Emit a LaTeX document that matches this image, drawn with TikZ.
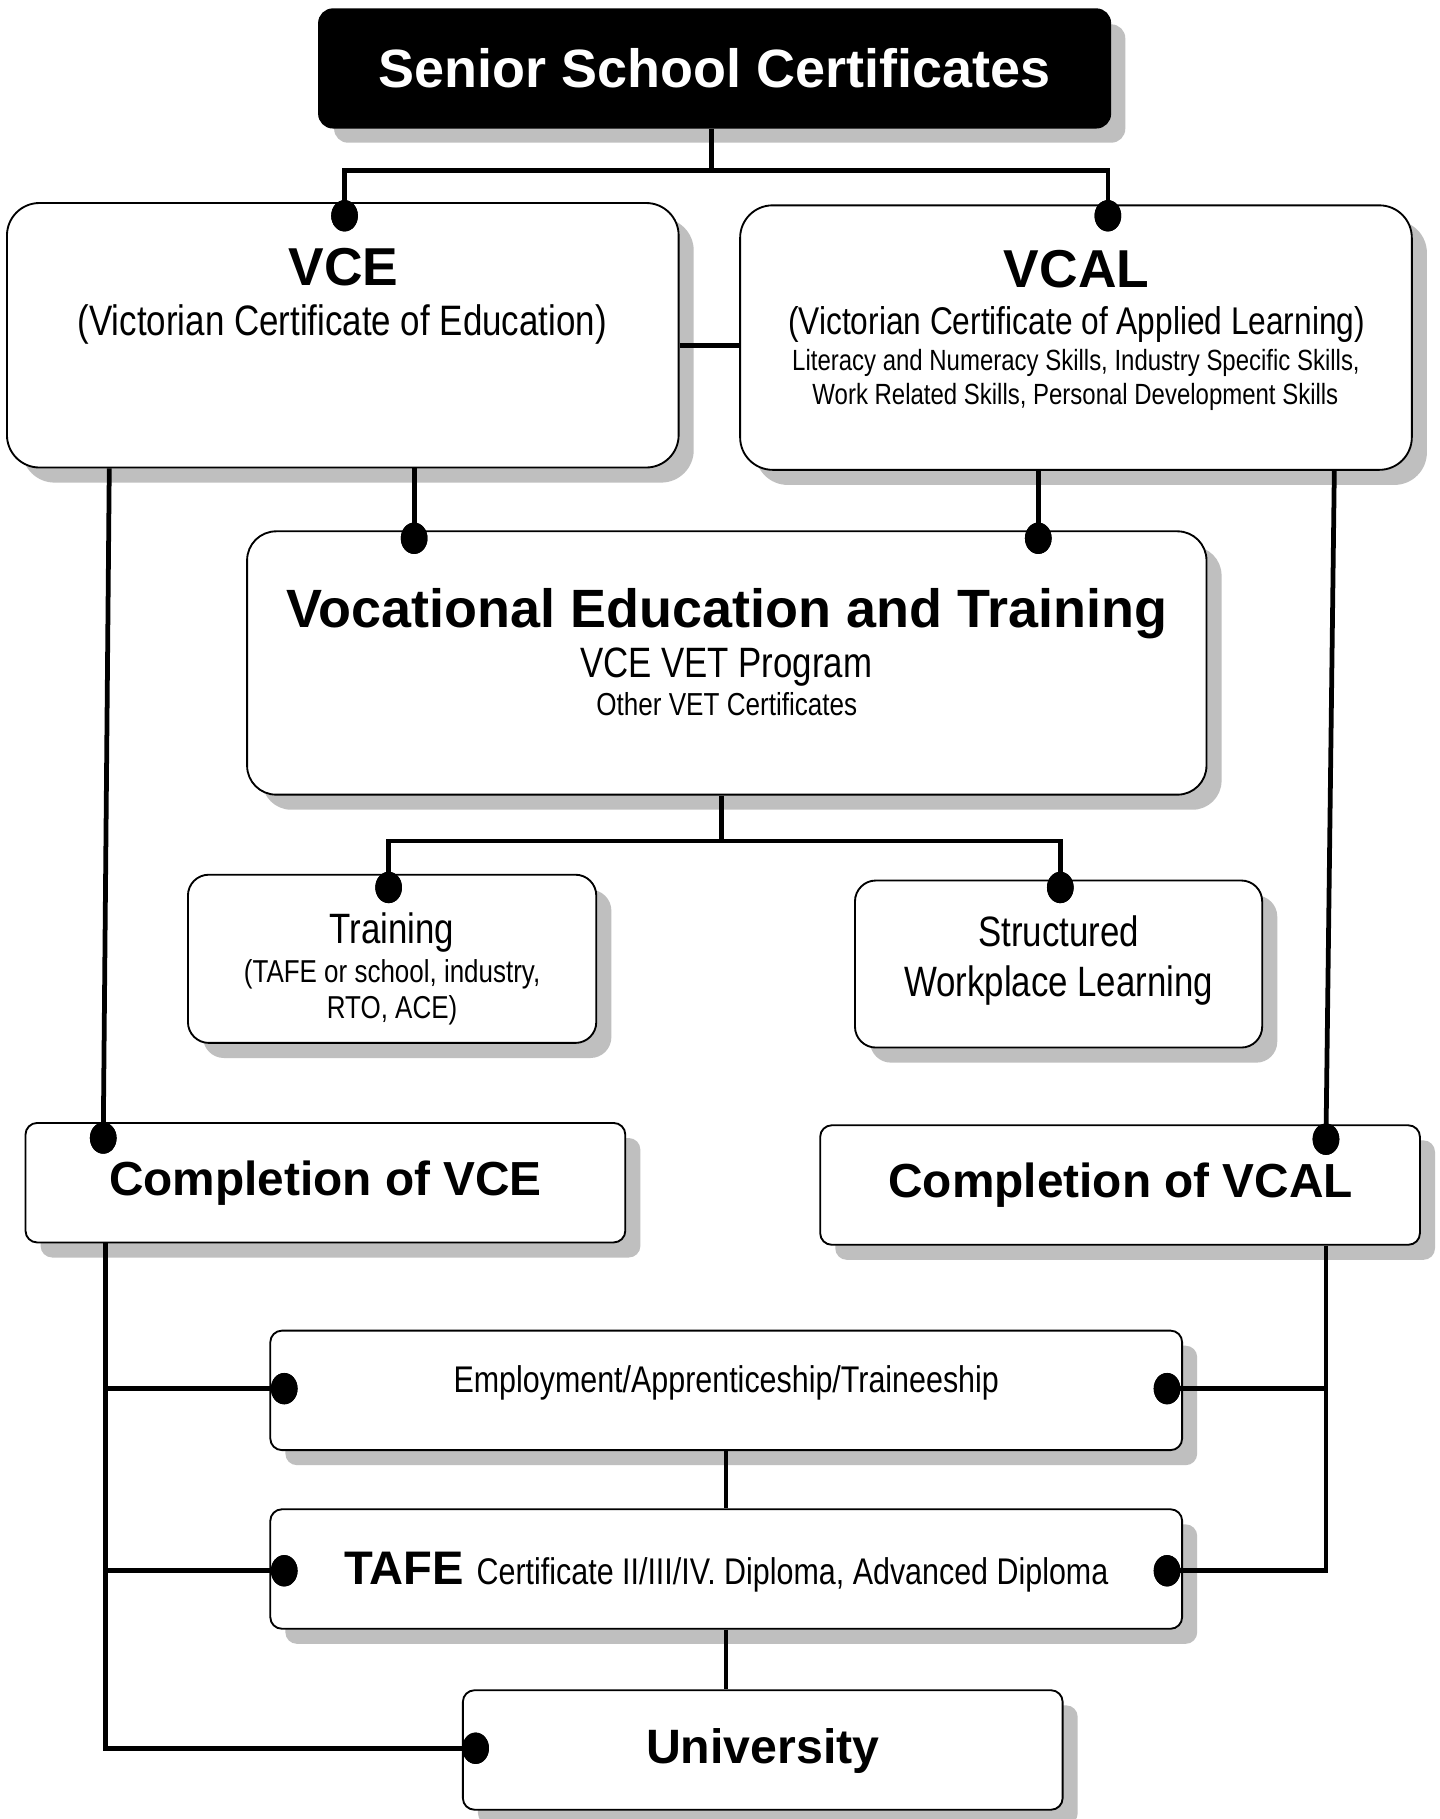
\documentclass[tikz,border=0pt]{standalone}
\usepackage{fontspec}
\setmainfont{Liberation Sans}
\newfontfamily\narfont[FakeStretch=0.82]{Liberation Sans}
\usetikzlibrary{shapes.geometric,shadows,calc}
\newcommand\Bsz[1]{\fontsize{#1}{#1}\selectfont\bfseries}
\newcommand\Nsz[1]{\fontsize{#1}{#1}\mdseries\narfont}
\tikzset{
 box/.style={draw=black, line width=1.6pt, fill=white, rectangle, inner sep=0pt,
   drop shadow={shadow xshift=13pt, shadow yshift=-13pt, fill=black!25, opacity=1}},
 conn/.style={line width=4.1pt, line join=miter},
 thinconn/.style={line width=3.2pt},
 dotn/.style={ellipse, fill=black, inner sep=0pt, minimum width=23pt, minimum height=27pt},
 txt/.style={anchor=base, inner sep=0pt},
}
\begin{document}
\begin{tikzpicture}[x=1pt,y=-1pt]
\useasboundingbox (0,0) rectangle (1241,1568);
\fill[white] (0,0) rectangle (1241,1568);
% boxes
\node[box, fill=black, rounded corners=12pt, minimum width=682pt, minimum height=102pt] (ssc) at (616,59) {};
\node[box, rounded corners=28pt, minimum width=579pt, minimum height=228pt] (vce) at (295.5,289) {};
\node[box, rounded corners=28pt, minimum width=579pt, minimum height=228pt] (vcal) at (927.5,291) {};
\node[box, rounded corners=25pt, minimum width=827pt, minimum height=227pt] (vet) at (626.5,571.5) {};
\node[box, rounded corners=18pt, minimum width=352pt, minimum height=145pt] (trn) at (338,826.5) {};
\node[box, rounded corners=18pt, minimum width=351pt, minimum height=144pt] (swl) at (912.5,831) {};
\node[box, rounded corners=10pt, minimum width=517pt, minimum height=103pt] (cvce) at (280.5,1019.5) {};
\node[box, rounded corners=10pt, minimum width=517pt, minimum height=103pt] (cvcal) at (965.5,1021.5) {};
\node[box, rounded corners=10pt, minimum width=786pt, minimum height=103pt] (emp) at (626,1198.5) {};
\node[box, rounded corners=10pt, minimum width=786pt, minimum height=103pt] (tafe) at (626,1352.5) {};
\node[box, rounded corners=10pt, minimum width=517pt, minimum height=103pt] (uni) at (657.5,1508.5) {};
% texts
\node[txt, text=white] (tssc) at (616,75) {\Bsz{46.5}Senior School Certificates};
\node[txt] (tvce) at (296,246.5) {\Bsz{46}VCE};
\node[txt] (tvce2) at (295,289) {\Nsz{36.7}(Victorian Certificate of Education)};
\node[txt] (tvcal) at (928,248) {\Bsz{46}VCAL};
\node[txt] (tvcal2) at (928,288) {\Nsz{33.3}(Victorian Certificate of Applied Learning)};
\node[txt] (tvcal3) at (927.5,319) {\Nsz{25.2}Literacy and Numeracy Skills, Industry Specific Skills,};
\node[txt] (tvcal4) at (927,348.5) {\Nsz{25.2}Work Related Skills, Personal Development Skills};
\node[txt] (tvet) at (626.5,540.5) {\Bsz{46.5}Vocational Education and Training};
\node[txt] (tvet2) at (626,584) {\Nsz{36.6}VCE VET Program};
\node[txt] (tvet3) at (626.5,617) {\Nsz{27.4}Other VET Certificates};
\node[txt] (ttrn) at (338,813) {\Nsz{36.6}Training};
\node[txt] (ttrn2) at (338,847) {\Nsz{27.3}(TAFE or school, industry,};
\node[txt] (ttrn3) at (338,878) {\Nsz{27.3}RTO, ACE)};
\node[txt] (tswl) at (912.5,816) {\Nsz{36.6}Structured};
\node[txt] (tswl2) at (912.5,859) {\Nsz{36.6}Workplace Learning};
\node[txt] (tcvce) at (280.5,1030.5) {\Bsz{41.2}Completion of VCE};
\node[txt] (tcvcal) at (966,1032.5) {\Bsz{41.2}Completion of VCAL};
\node[txt] (temp) at (626,1200.5) {\Nsz{32}Employment/Apprenticeship/Traineeship};
\node[txt] (ttafe) at (626,1365.5) {\Bsz{40.6}TAFE \Nsz{32}Certificate II/III/IV. Diploma, Advanced Diploma};
\node[txt] (tuni) at (657.5,1520) {\Bsz{41.6}University};
% dots (positions)
\node[dotn] (d1) at (297,186) {};
\node[dotn] (d2) at (955,186) {};
\node[dotn] (d3) at (357,464) {};
\node[dotn] (d4) at (895,464) {};
\node[dotn] (d5) at (335,765) {};
\node[dotn] (d6) at (914,765) {};
\node[dotn] (d7) at (89,981) {};
\node[dotn] (d8) at (1143,982) {};
\node[dotn] (d9) at (245,1197) {};
\node[dotn] (d10) at (245,1354) {};
\node[dotn] (d11) at (410,1507) {};
\node[dotn] (d12) at (1006,1197) {};
\node[dotn] (d13) at (1006,1354) {};
\coordinate (bus1) at (613,147);
\coordinate (bus2) at (622,725);
\coordinate (lt) at (91,1507);
\coordinate (rt) at (1143,1354);
% connectors
\draw[conn] (bus1 |- ssc.south) -- (bus1);
\draw[conn] (d1.center) |- (bus1) -| (d2.center);
\draw[conn] ($(vce.east)+(0,9)$) -- ($(vcal.west)+(0,7)$);
\draw[conn] (d3 |- vce.south) -- (d3.center);
\draw[conn] (d4 |- vcal.south) -- (d4.center);
\draw[conn] (bus2 |- vet.south) -- (bus2);
\draw[conn] (d5.center) |- (bus2) -| (d6.center);
\draw[conn] ($(vce.south west)+(89,0)$) -- (d7.center);
\draw[conn] ($(vcal.south west)+(513,0)$) -- (d8.center);
\draw[conn] (lt |- cvce.south) -- (lt) -- (d11.center);
\draw[conn] (lt |- d9) -- (d9.center);
\draw[conn] (lt |- d10) -- (d10.center);
\draw[conn] (rt |- cvcal.south) -- (rt) -- (d13.center);
\draw[conn] (rt |- d12) -- (d12.center);
\draw[thinconn] (emp.south) -- (tafe.north);
\draw[thinconn] (tafe.south) -- (tafe.south |- uni.north);
% redraw dots on top
\foreach \d in {d1,d2,d3,d4,d5,d6,d7,d8,d9,d10,d11,d12,d13}
  \fill (\d.center) ellipse [x radius=11.5pt, y radius=13.5pt];
\end{tikzpicture}
\end{document}
